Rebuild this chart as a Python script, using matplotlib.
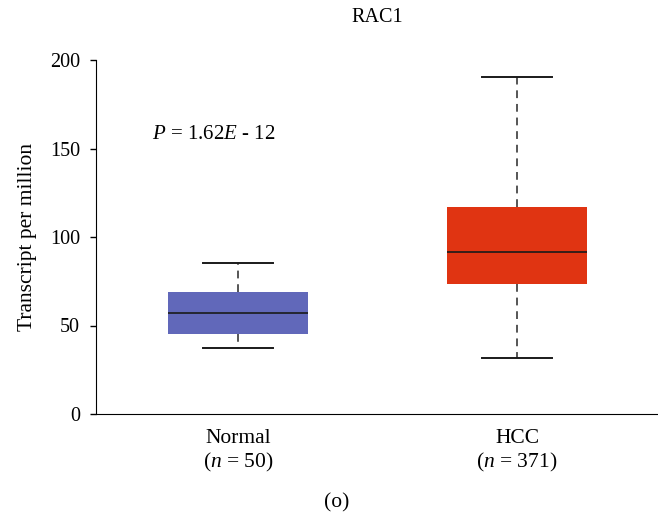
import matplotlib
matplotlib.use("Agg")
import matplotlib.pyplot as plt

plt.rcParams['font.family'] = ['Liberation Serif', 'DejaVu Serif']
plt.rcParams['mathtext.fontset'] = 'custom'
plt.rcParams['mathtext.rm'] = 'Liberation Serif'
plt.rcParams['mathtext.it'] = 'Liberation Serif:italic'

# data
groups = ['Normal', 'HCC']
group_n = [50, 371]
whislo = [37.5, 31.5]
q1 = [45.3, 73.5]
med = [57.0, 91.5]
q3 = [69.0, 117.0]
whishi = [85.5, 190.5]
box_colors = ['#6168BA', '#E03412']

stats = []
for i in range(len(groups)):
    stats.append({'label': groups[i], 'whislo': whislo[i], 'q1': q1[i], 'med': med[i],
                  'q3': q3[i], 'whishi': whishi[i], 'fliers': []})

fig = plt.figure(figsize=(6.58, 5.15), dpi=100)
ax = fig.add_axes([96/658, 1-414/515, 1-96/658, (414-60)/515])

bp = ax.bxp(stats, positions=[1, 2], widths=0.5, patch_artist=True, showfliers=False,
            boxprops=dict(linewidth=0),
            medianprops=dict(color='#1a1a1a', linewidth=1.2),
            whiskerprops=dict(color='#555555', linestyle=(0, (4, 3)), linewidth=1.4),
            capprops=dict(color='#1a1a1a', linewidth=1.4),
            capwidths=0.25)
for patch, c in zip(bp['boxes'], box_colors):
    patch.set_facecolor(c)
    patch.set_edgecolor(c)

ax.set_xlim(0.491, 2.505)
ax.set_ylim(0, 200)
ax.set_yticks([0, 50, 100, 150, 200])
ax.tick_params(axis='y', labelsize=14.5, length=4.5, width=1, pad=7)
ax.tick_params(axis='x', length=0, labelsize=15.5, pad=11)
ax.set_xticks([1, 2])
ax.set_xticklabels([g + '\n($\\mathit{n}$ = ' + str(n) + ')' for g, n in zip(groups, group_n)],
                   linespacing=1.15)
ax.spines['top'].set_visible(False)
ax.spines['right'].set_visible(False)
ax.set_ylabel('Transcript per million', fontsize=15.5, labelpad=9)

ax.text(0.69, 158, '$P$ = 1.62$E$ - 12', fontsize=15, va='center', ha='left')

fig.text(377/658, 1-18/515, 'RAC1', fontsize=14.5, ha='center', va='center')
fig.text(337/658, 1-503/515, '(o)', fontsize=15.5, ha='center', va='center')

fig.savefig('out.png', dpi=100)
